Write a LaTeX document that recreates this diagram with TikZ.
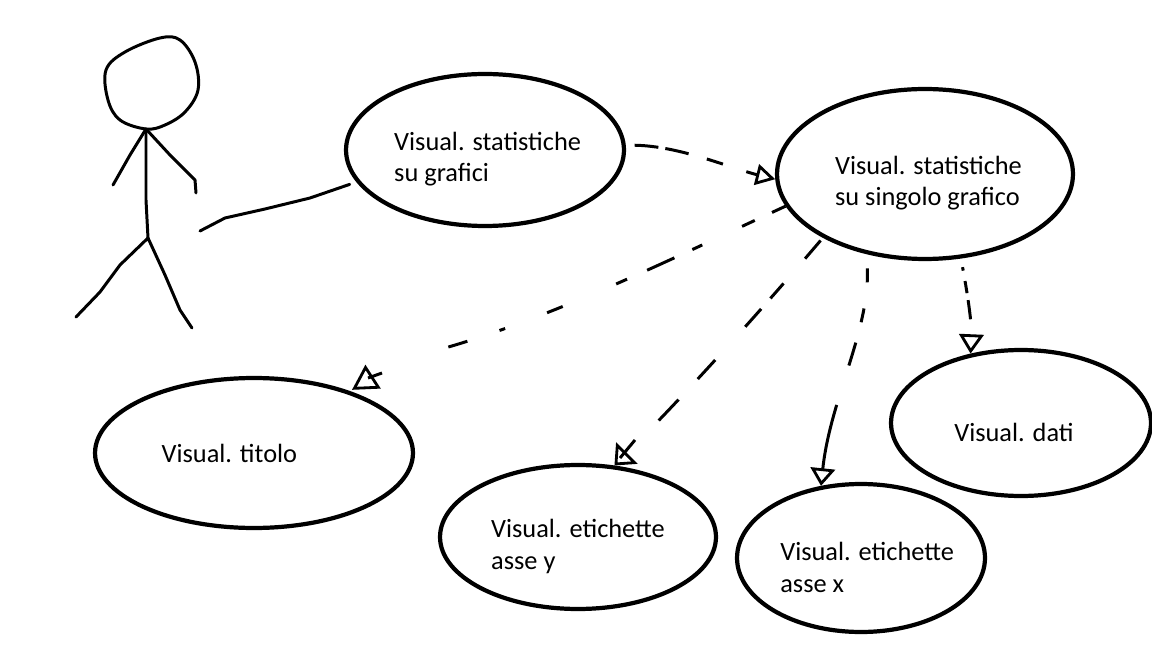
\documentclass[tikz,border=0pt]{standalone}
\usepackage{fontspec}
\setmainfont{Carlito}
\usetikzlibrary{shapes.geometric,arrows.meta}
\newcommand{\lowered}{\rule{0pt}{21pt}}
\tikzset{
  usecase/.style={ellipse,draw,line width=2.4pt,inner sep=0pt,align=left,font=\fontsize{15}{18}\selectfont},
  stick/.style={line width=1.7pt,line cap=round,line join=round},
  dep/.style={line width=1.7pt},
  openhead/.style n args={2}{-{Triangle[open,length=#1,width=#2,line width=1.6pt]}},
  backhead/.style n args={2}{-{Triangle[open,reversed,length=#1,width=#2,line width=1.6pt]}}
}

\begin{document}
\begin{tikzpicture}[x=0.02cm,y=-0.02cm]
  \useasboundingbox (0,0) rectangle (1152,648);

  % stick figure
  \draw[stick] plot[smooth cycle,tension=0.6] coordinates {(146,129) (120,120) (108,100) (106,70) (125,52) (160,38) (180,40) (195,62) (198,90) (185,112) (165,125)};
  \draw[stick] (146,129) -- (146,200) -- (148,238);
  \draw[stick] (113,185) -- (130,155) -- (146,129) -- (170,155) -- (195,180) -- (196,193);
  \draw[stick] (76,317) -- (100,292) -- (120,265) -- (148,238) -- (165,275) -- (180,310) -- (192,328);
  \coordinate (actor) at (200,231);

  % use cases
  \node[usecase,minimum width=5.56cm,minimum height=3.04cm] (grafici) at (485,150) {\lowered Visual. statistiche\hspace*{-3pt}\\su grafici};
  \node[usecase,minimum width=5.92cm,minimum height=3.40cm] (singolo) at (925,174) {\lowered Visual. statistiche\hspace*{-4pt}\\su singolo grafico\hspace*{-4pt}};
  \node[usecase,minimum width=6.36cm,minimum height=3.00cm] (titolo) at (254,453) {\hspace*{-28pt}Visual. titolo};
  \node[usecase,minimum width=5.52cm,minimum height=2.88cm] (assey) at (578,537) {\lowered Visual. etichette\\asse y};
  \node[usecase,minimum width=4.96cm,minimum height=2.96cm] (assex) at (861,558) {\lowered Visual. etichette\hspace*{-7pt}\\asse x};
  \node[usecase,minimum width=5.20cm,minimum height=2.92cm] (dati) at (1021,423) {\hspace*{-8pt}\lowered Visual. dati};

  % actor line
  \draw[stick,shorten >=4pt] (actor) -- (225,218) -- (265,209) -- (310,198) -- (grafici.194);

  % dashed lines
  \draw[dep,openhead={11pt}{12pt},shorten <=5pt,dash pattern=on 13.6pt off 4pt on 13.6pt off 10.8pt on 9.6pt off 14pt on 20pt off 2pt]
    (grafici.2) .. controls (680,146) and (730,168) .. (singolo.182);
  \draw[dep,backhead={14pt}{16pt},shorten >=5pt,dash pattern=on 8.5pt off 10.8pt on 8pt off 25pt on 6.2pt off 11.3pt on 17pt off 12.5pt on 6.8pt off 33pt on 9.6pt off 25.5pt on 3.4pt off 19.3pt on 11.3pt off 90pt]
    (singolo.193) .. controls (690,250) and (560,315) .. (445,348) .. controls (410,362) and (365,345) .. (365,355) -- (titolo.26);
  \draw[dep,openhead={10pt}{17pt},shorten <=2pt,dash pattern=on 13.6pt off 18.7pt on 11.3pt off 8pt on 13.6pt off 25.5pt on 14.7pt off 16pt on 16.4pt off 60pt]
    (singolo.212) .. controls (770,300) and (690,390) .. (assey.63);
  \draw[dep,openhead={10pt}{14pt},shorten <=8pt,dash pattern=on 8pt off 15pt on 8pt off 12pt on 13.6pt off 23.5pt on 40pt off 2pt]
    (singolo.234) .. controls (870,330) and (830,400) .. (assex.119);
  \draw[dep,openhead={11pt}{14pt},shorten <=5pt,dash pattern=on 2pt off 6pt on 7pt off 4pt on 11pt off 30pt]
    (singolo.293) .. controls (965,280) and (972,320) .. (dati.126);

  % ticks on the heads
  \draw[dep] (368,378) -- (382,373);
  \draw[dep] (635,440) -- (620,458);
\end{tikzpicture}
\end{document}
